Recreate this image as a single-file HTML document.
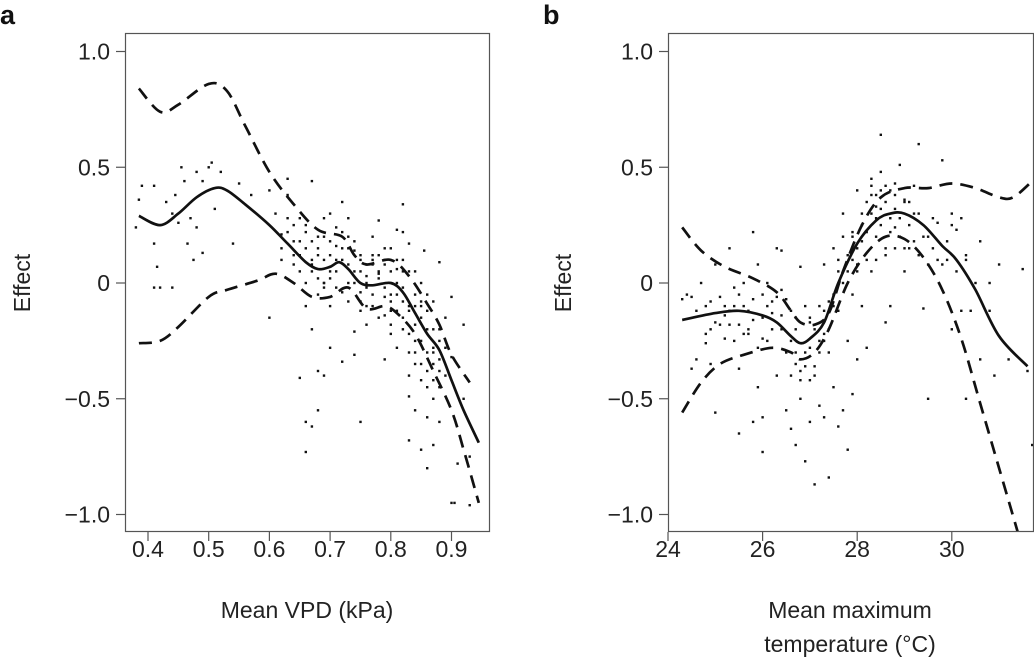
<!DOCTYPE html>
<html><head><meta charset="utf-8"><style>
body{margin:0;background:#fff;}
svg{display:block;font-family:"Liberation Sans",sans-serif;}
</style></head><body>
<svg id="chart" width="1034" height="663" viewBox="0 0 1034 663"></svg>
<script>
// ---- Panel a data (Mean VPD) ----
const aXTicks=[0.4,0.5,0.6,0.7,0.8,0.9];
const aXTickLabels=["0.4","0.5","0.6","0.7","0.8","0.9"];
const yTicks=[1,0.5,0,-0.5,-1];
const yTickLabels=["1.0","0.5","0","\u22120.5","\u22121.0"];
const aFitX=[0.385,0.42,0.45,0.48,0.51,0.53,0.56,0.6,0.63,0.66,0.68,0.7,0.715,0.73,0.75,0.77,0.8,0.82,0.84,0.86,0.88,0.9,0.92,0.945];
const aFitY=[0.29,0.25,0.30,0.37,0.41,0.40,0.34,0.25,0.17,0.09,0.06,0.07,0.09,0.06,0.0,-0.01,0.0,-0.04,-0.13,-0.22,-0.29,-0.42,-0.55,-0.69];
const aUpX=[0.385,0.42,0.45,0.5,0.53,0.56,0.6,0.64,0.68,0.72,0.74,0.76,0.8,0.83,0.86,0.88,0.9,0.93];
const aUpY=[0.84,0.74,0.77,0.86,0.83,0.68,0.48,0.34,0.23,0.2,0.12,0.08,0.1,0.03,-0.09,-0.18,-0.31,-0.43];
const aLoX=[0.385,0.42,0.45,0.5,0.53,0.58,0.61,0.64,0.67,0.7,0.73,0.76,0.79,0.81,0.84,0.87,0.9,0.92,0.945];
const aLoY=[-0.26,-0.25,-0.19,-0.06,-0.03,0.01,0.04,0.0,-0.06,-0.06,-0.02,-0.11,-0.1,-0.13,-0.22,-0.38,-0.55,-0.72,-0.95];
const aPtsX=[0.38,0.385,0.39,0.41,0.41,0.415,0.41,0.42,0.44,0.43,0.44,0.445,0.45,0.455,0.46,0.465,0.47,0.475,0.48,0.48,0.49,0.49,0.5,0.505,0.51,0.52,0.54,0.55,0.57,0.6,0.6,0.61,0.62,0.62,0.63,0.63,0.64,0.65,0.65,0.66,0.66,0.67,0.67,0.67,0.68,0.68,0.69,0.69,0.7,0.7,0.65,0.66,0.66,0.67,0.68,0.68,0.69,0.7,0.71,0.71,0.72,0.72,0.72,0.72,0.73,0.73,0.74,0.74,0.74,0.75,0.75,0.75,0.76,0.76,0.77,0.77,0.78,0.78,0.78,0.79,0.79,0.8,0.8,0.8,0.81,0.81,0.82,0.82,0.82,0.82,0.83,0.83,0.83,0.83,0.83,0.84,0.84,0.84,0.84,0.85,0.85,0.85,0.855,0.86,0.86,0.86,0.86,0.87,0.87,0.87,0.87,0.88,0.88,0.88,0.89,0.89,0.9,0.9,0.9,0.905,0.91,0.92,0.93,0.93,0.92,0.7,0.69,0.71,0.73,0.76,0.79,0.81,0.8,0.77,0.74,0.68,0.66,0.64,0.83,0.85,0.86,0.88,0.87,0.89,0.84,0.82,0.79,0.75,0.77,0.8,0.81];
const aPtsY=[0.24,0.36,0.42,0.42,0.17,0.07,-0.02,-0.02,-0.02,0.35,0.3,0.38,0.26,0.5,0.44,0.17,0.28,0.1,0.24,0.48,0.44,0.13,0.5,0.52,0.32,0.48,0.17,0.43,0.38,-0.15,0.4,0.3,0.21,0.1,0.38,0.45,0.25,0.28,0.05,-0.1,0.15,0.44,0.18,-0.2,0.2,-0.05,0.28,0.1,0.3,-0.1,-0.41,-0.6,-0.73,-0.62,-0.55,-0.38,-0.4,-0.28,0.24,0.1,0.35,0.15,-0.04,-0.34,0.28,0.08,-0.21,-0.31,0.14,0.05,-0.6,-0.08,0.08,-0.18,0.2,-0.05,0.27,-0.15,0.12,-0.33,0.1,-0.18,0.05,-0.08,0.23,-0.12,0.34,0.22,-0.02,-0.2,0.17,-0.3,-0.4,-0.49,-0.68,-0.1,-0.25,-0.55,0.05,-0.72,-0.15,-0.35,0.14,-0.05,-0.3,-0.58,-0.8,-0.42,-0.2,-0.5,-0.7,0.09,-0.33,-0.6,-0.15,-0.4,-0.06,-0.32,-0.95,-0.95,-0.78,-0.18,-0.96,-0.75,-0.5,0.05,0.0,-0.02,0.0,0.03,-0.02,0.06,0.15,0.12,0.0,0.12,0.0,0.08,-0.1,0.0,-0.12,-0.25,-0.08,-0.28,-0.18,-0.08,0.08,0.1,-0.1,-0.22,-0.28];
const aPtsX2=[0.62,0.63,0.64,0.65,0.66,0.67,0.68,0.69,0.7,0.71,0.72,0.73,0.74,0.75,0.76,0.77,0.78,0.79,0.8,0.81,0.82,0.83,0.84,0.85,0.86,0.87,0.88,0.66,0.68,0.7,0.72,0.74,0.76,0.78,0.8,0.82,0.84,0.86,0.65,0.67,0.69,0.71,0.73,0.75,0.77,0.79,0.81,0.83,0.85,0.87,0.64,0.67,0.7,0.73,0.76,0.79,0.82,0.85,0.88,0.63,0.69,0.75,0.81,0.87,0.84,0.86,0.88,0.85,0.83,0.78];
const aPtsY2=[0.15,0.22,0.12,0.18,0.22,0.05,0.15,0.0,0.18,0.05,0.22,0.15,0.05,0.12,-0.02,0.08,0.02,0.15,-0.05,0.1,0.05,-0.12,-0.05,-0.1,-0.2,-0.3,-0.38,0.25,0.02,0.12,0.1,0.18,-0.1,0.05,-0.12,-0.15,-0.3,-0.38,0.12,0.08,0.2,0.16,-0.08,-0.04,0.1,-0.06,0.0,0.05,-0.25,-0.35,0.18,0.1,0.02,0.2,0.0,-0.14,0.1,-0.42,-0.45,0.28,-0.02,-0.12,-0.05,-0.28,-0.35,-0.45,-0.2,-0.08,-0.22,0.04];

// ---- Panel b data (Mean maximum temperature) ----
const bXTicks=[24,26,28,30];
const bXTickLabels=["24","26","28","30"];
const bFitX=[24.3,25,25.5,26,26.3,26.6,26.8,27,27.3,27.6,28,28.4,28.7,29,29.4,29.8,30.1,30.5,31,31.6];
const bFitY=[-0.16,-0.13,-0.12,-0.14,-0.17,-0.23,-0.26,-0.24,-0.17,0.0,0.17,0.27,0.30,0.30,0.25,0.16,0.10,-0.03,-0.23,-0.36];
const bUpX=[24.3,24.7,25.2,25.8,26.3,26.6,26.8,27.1,27.4,27.7,28.1,28.5,29,29.5,30,30.5,31,31.3,31.7];
const bUpY=[0.24,0.14,0.07,0.02,-0.04,-0.12,-0.17,-0.18,-0.13,0.05,0.25,0.37,0.41,0.41,0.43,0.41,0.37,0.37,0.44];
const bLoX=[24.3,24.7,25.1,25.6,26.2,26.6,26.8,27.1,27.4,27.8,28.2,28.6,29,29.4,29.8,30.2,30.6,31,31.4];
const bLoY=[-0.56,-0.43,-0.35,-0.31,-0.28,-0.30,-0.33,-0.30,-0.2,0.0,0.13,0.20,0.19,0.11,-0.03,-0.24,-0.52,-0.8,-1.08];
const bPtsX=[24.3,24.4,24.5,24.5,24.6,24.7,24.8,24.8,24.9,25,25,25.1,25.2,25.3,25.3,25.4,25.5,25.5,25.6,25.6,25.7,25.8,25.8,25.9,25.9,26,26,26,26.1,26.1,26.2,26.3,26.3,26.4,26.4,26.5,26.5,26.6,26.6,26.7,26.7,26.8,26.8,26.9,26.9,26.8,27,27,27.1,27.1,27.2,27.2,27.3,27.3,27.4,27.4,27.5,27.5,27.6,27.6,27.7,27.7,27.8,27.8,27.9,27.9,28,28,28.1,28.1,28.2,28.2,28.3,28.3,28.4,28.4,28.5,28.5,28.6,28.6,28.7,28.7,28.8,28.8,28.9,29,29,29.1,29.2,29.3,29.3,29.4,29.4,29.5,29.5,29.6,29.7,29.8,29.8,29.9,30,30,30.1,30.2,30.2,30.3,30.3,30.4,30.5,30.6,30.6,30.8,30.8,30.9,31,31.2,31.5,31.6,31.7,27,27.1,27.2,27.3,27.4,26.9,26.7,26.6,26.4,26.2,26,25.8,25.7,25.5,25.4,25.2,25.0,24.9,27.5,27.6,27.7,27.8,27.9,28,28.1,28.2,28.3,28.4,28.5,28.6,28.7,28.8,28.9,29,29.1,29.2,29.6,29.7,30.1];
const bPtsY=[-0.07,-0.05,-0.06,-0.37,-0.33,0.0,-0.1,-0.26,-0.35,-0.56,0.08,-0.06,-0.24,0.15,-0.18,-0.02,-0.65,-0.37,0.0,-0.1,-0.22,0.22,-0.6,0.08,-0.45,-0.05,-0.58,-0.73,-0.25,0.0,-0.13,0.15,-0.4,-0.03,0.14,-0.07,-0.55,-0.63,-0.4,-0.7,-0.2,0.07,-0.5,-0.77,-0.1,-0.38,-0.42,-0.6,-0.87,-0.4,-0.53,-0.1,0.08,-0.58,-0.84,-0.3,-0.45,0.15,-0.62,0.05,-0.55,0.3,-0.72,-0.25,0.2,-0.48,0.4,-0.33,-0.1,0.3,0.1,-0.28,0.45,0.05,0.38,0.2,0.64,0.48,-0.17,0.12,0.28,-0.1,0.43,0.15,0.51,0.36,0.05,0.25,0.42,0.6,0.12,0.2,-0.11,0.08,-0.5,0.15,0.26,0.53,0.08,0.1,0.25,-0.2,0.23,0.28,-0.12,0.1,-0.5,-0.12,0.0,0.18,-0.33,-0.12,0.0,-0.4,0.08,-0.33,0.06,-0.38,-0.7,-0.15,-0.2,-0.25,-0.12,-0.2,-0.3,-0.35,-0.25,-0.2,-0.08,-0.15,-0.07,-0.12,-0.18,-0.25,-0.1,-0.17,-0.2,-0.1,0.1,0.2,0.05,-0.05,0.15,0.25,0.35,0.3,0.1,0.25,0.35,0.4,0.32,0.2,0.15,0.35,0.18,0.28,0.1,0.05];
const bPtsX2=[24.6,24.9,25.2,25.5,25.8,26.1,26.4,26.7,27.0,27.3,24.8,25.1,25.4,25.7,26.0,26.3,26.6,26.9,27.2,27.5,27.6,27.8,28.0,28.2,28.4,28.6,28.8,29.0,29.2,28.1,28.3,28.5,28.7,28.9,29.1,27.7,27.9,28.3,28.6,29.3,26.5,26.8,27.1,26.2,25.9,25.6,25.3,26.7,27.0,27.3,28.0,28.4,28.8,29.5,29.9,30.3,30.0,27.4,27.9,28.5];
const bPtsY2=[-0.12,-0.08,-0.14,-0.05,-0.16,-0.1,-0.14,-0.3,-0.17,-0.22,-0.22,-0.18,-0.1,-0.2,-0.24,-0.06,-0.12,-0.36,-0.3,-0.05,-0.12,0.12,0.05,0.22,0.28,0.15,0.24,0.35,0.3,0.18,0.38,0.32,0.22,0.28,0.15,0.0,0.1,0.42,0.42,0.3,-0.3,-0.42,-0.36,-0.2,-0.28,-0.22,-0.12,-0.15,-0.28,-0.25,0.08,0.33,0.38,0.2,0.18,0.12,0.3,-0.08,0.22,0.4];

const NS="http://www.w3.org/2000/svg";
const svg=document.getElementById('chart');
function mk(tag,attrs,parent){const e=document.createElementNS(NS,tag);for(const k in attrs)e.setAttribute(k,attrs[k]);(parent||svg).appendChild(e);return e;}
const TOP=33,BOT=532;
function yScale(v){return 283-v*231.5;}
function smoothPath(xs,ys,sx){
  const p=xs.map((x,i)=>[sx(x),yScale(ys[i])]);
  let d="M"+p[0][0].toFixed(1)+","+p[0][1].toFixed(1);
  for(let i=0;i<p.length-1;i++){
    const p0=p[i-1]||p[i],p1=p[i],p2=p[i+1],p3=p[i+2]||p2;
    const c1=[p1[0]+(p2[0]-p0[0])/6,p1[1]+(p2[1]-p0[1])/6];
    const c2=[p2[0]-(p3[0]-p1[0])/6,p2[1]-(p3[1]-p1[1])/6];
    d+=" C"+c1[0].toFixed(1)+","+c1[1].toFixed(1)+" "+c2[0].toFixed(1)+","+c2[1].toFixed(1)+" "+p2[0].toFixed(1)+","+p2[1].toFixed(1);
  }
  return d;
}
function panel(id,L,R,sx,xTicks,xLabels,fx,fy,ux,uy,lx,ly,px,py){
  const g=mk('g',{});
  
  
  const clipId=id+'-clip';
  const cp=mk('clipPath',{id:clipId},g);mk('rect',{x:L,y:TOP,width:R-L,height:BOT-TOP},cp);
  const pts=mk('g',{'clip-path':'url(#'+clipId+')'},g);
  
  
  for(let i=0;i<px.length;i++){
    const c=mk('rect',{x:(sx(px[i])-1.2).toFixed(1),y:(yScale(py[i])-1.2).toFixed(1),width:2.4,height:2.4,fill:'#111'},pts);
    
    
  }
  const lines=mk('g',{'clip-path':'url(#'+clipId+')',fill:'none',stroke:'#111','stroke-width':2.7},g);
  const f=mk('path',{d:smoothPath(fx,fy,sx)},lines);
  
  
  const u=mk('path',{d:smoothPath(ux,uy,sx),'stroke-dasharray':'13 8'},lines);
  
  
  const l=mk('path',{d:smoothPath(lx,ly,sx),'stroke-dasharray':'13 8'},lines);
  
  
  const fr=mk('rect',{x:L+0.5,y:TOP+0.5,width:R-L-1,height:BOT-TOP-1,fill:'none',stroke:'#555','stroke-width':1.2},g);
  
  
  yTicks.forEach((v,i)=>{
    const y=yScale(v);
    mk('line',{x1:L-9,x2:L,y1:y,y2:y,stroke:'#555','stroke-width':1.2},g);
    const t=mk('text',{x:L-15,y:y+8,'text-anchor':'end','font-size':23,fill:'#222'},g);
    t.textContent=yTickLabels[i];
    
    
  });
  xTicks.forEach((v,i)=>{
    const x=sx(v);
    mk('line',{x1:x,x2:x,y1:BOT,y2:BOT+9,stroke:'#555','stroke-width':1.2},g);
    const t=mk('text',{x:x,y:557,'text-anchor':'middle','font-size':23,fill:'#222'},g);
    t.textContent=xLabels[i];
    
    
  });
}
const sxA=v=>148+(v-0.4)*607;
const sxB=v=>668+(v-24)*47.3;
panel('panel-a',125,490,sxA,aXTicks,aXTickLabels,aFitX,aFitY,aUpX,aUpY,aLoX,aLoY,aPtsX.concat(aPtsX2),aPtsY.concat(aPtsY2));
panel('panel-b',668,1034,sxB,bXTicks,bXTickLabels,bFitX,bFitY,bUpX,bUpY,bLoX,bLoY,bPtsX.concat(bPtsX2),bPtsY.concat(bPtsY2));
</script>
<svg style="position:absolute;left:0;top:0" width="1034" height="663">
<text x="0" y="24" font-size="27" font-weight="bold" fill="#111" font-family="Liberation Sans,sans-serif">a</text>
<text x="543" y="24" font-size="27" font-weight="bold" fill="#111" font-family="Liberation Sans,sans-serif">b</text>
<text transform="translate(30,283) rotate(-90)" text-anchor="middle" font-size="23" fill="#222" font-family="Liberation Sans,sans-serif">Effect</text>
<text transform="translate(571,283) rotate(-90)" text-anchor="middle" font-size="23" fill="#222" font-family="Liberation Sans,sans-serif">Effect</text>
<text x="307" y="618" text-anchor="middle" font-size="23" fill="#222" font-family="Liberation Sans,sans-serif">Mean VPD (kPa)</text>
<text x="850" y="618" text-anchor="middle" font-size="23" fill="#222" font-family="Liberation Sans,sans-serif">Mean maximum</text>
<text x="850" y="652" text-anchor="middle" font-size="23" fill="#222" font-family="Liberation Sans,sans-serif">temperature (°C)</text>
</svg>
</body></html>
